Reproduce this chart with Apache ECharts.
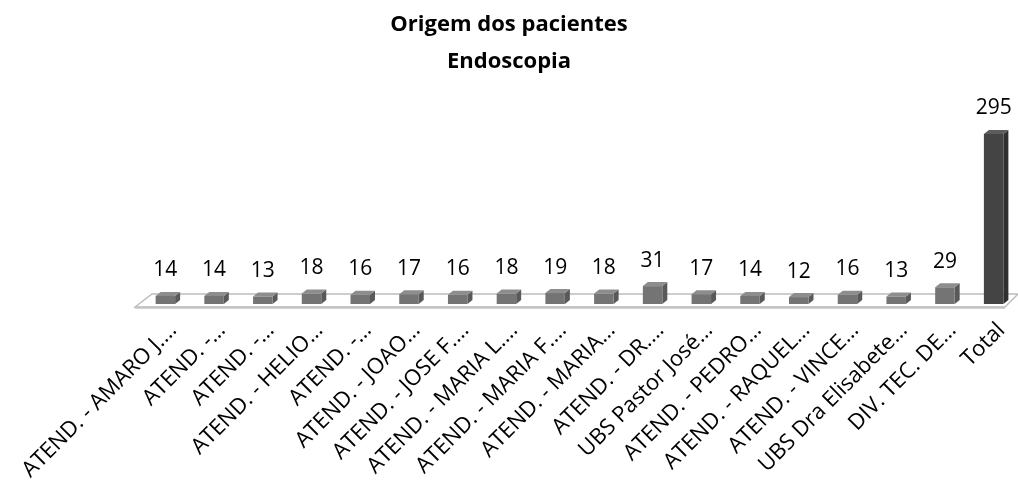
<!DOCTYPE html>
<html>
<head>
<meta charset="utf-8">
<script src="https://cdn.jsdelivr.net/npm/echarts@6/dist/echarts.min.js"></script>
<style>
  html, body { margin: 0; padding: 0; background: #fff; }
  #main { width: 1018px; height: 487px; }
</style>
</head>
<body>
<div id="main"></div>
<script>
// origem dos pacientes (rótulos truncados como no original)
var categorias = [
    "ATEND. - AMARO J.…", "ATEND. -…", "ATEND. -…", "ATEND. - HELIO…",
    "ATEND. -…", "ATEND. - JOAO…", "ATEND. - JOSE F.…", "ATEND. - MARIA L.…",
    "ATEND. - MARIA F.…", "ATEND. - MARIA…", "ATEND. - DR.…", "UBS Pastor José…",
    "ATEND. - PEDRO…", "ATEND. - RAQUEL…", "ATEND. - VINCE…", "UBS Dra Elisabete…",
    "DIV. TEC. DE…", "Total"
];
// quantidade de pacientes
var valores = [14, 14, 13, 18, 16, 17, 16, 18, 19, 18, 31, 17, 14, 12, 16, 13, 29, 295];

var fonte = '"Open Sans", "Liberation Sans", sans-serif';

// monta pares [indice, valor] para a serie custom
var dados = valores.map(function (v, i) {
    return [i, v];
});

// desenha cada barra como uma caixa 3D (frente, topo, lateral)
function caixa3d(params, api) {
    var idx = api.value(0);
    var val = api.value(1);
    var topo = api.coord([idx, val]);
    var base = api.coord([idx, 0]);
    var larguraBanda = api.size([1, 0])[0];
    var w = larguraBanda * 0.4;
    var dx = 5, dy = 4;
    var x0 = topo[0] - w / 2, x1 = topo[0] + w / 2;
    var yt = topo[1], yb = base[1];
    var total = idx === categorias.length - 1;
    var cores = total
        ? { frente: '#444444', topo: '#5c5c5c', lado: '#303030' }
        : { frente: '#747474', topo: '#8d8d8d', lado: '#595959' };

    var filhos = [];
    // piso (desenhado uma vez, atras de tudo)
    if (params.dataIndex === 0) {
        var cs = params.coordSys;
        var gx = cs.x, gw = cs.width, gy = cs.y + cs.height;
        filhos.push({
            type: 'polygon',
            shape: { points: [[gx - 6, gy + 3], [gx + 11, gy - 10], [gx + gw, gy - 10], [gx + gw - 13, gy + 3]] },
            style: { fill: '#ffffff', stroke: '#bdbdbd', lineWidth: 1.5 }
        });
        filhos.push({
            type: 'line',
            shape: { x1: gx - 6, y1: gy + 3.5, x2: gx + gw - 13, y2: gy + 3.5 },
            style: { stroke: '#c4c4c4', lineWidth: 2.5 }
        });
    }
    filhos.push({
        type: 'polygon',
        shape: { points: [[x1, yt], [x1 + dx, yt - dy], [x1 + dx, yb - dy], [x1, yb]] },
        style: { fill: cores.lado }
    });
    filhos.push({
        type: 'polygon',
        shape: { points: [[x0, yt], [x0 + dx, yt - dy], [x1 + dx, yt - dy], [x1, yt]] },
        style: { fill: cores.topo }
    });
    filhos.push({
        type: 'rect',
        shape: { x: x0, y: yt, width: w, height: yb - yt },
        style: { fill: cores.frente }
    });
    // rotulo de valor
    filhos.push({
        type: 'text',
        x: topo[0],
        y: yt - dy - 11,
        style: {
            text: String(val),
            fill: '#000',
            font: '21px ' + fonte,
            align: 'center',
            verticalAlign: 'bottom'
        }
    });
    return { type: 'group', children: filhos };
}

var myChart = echarts.init(document.getElementById('main'));
var option = {
    backgroundColor: '#ffffff',
    animation: false,
    title: {
        text: 'Origem dos pacientes\nEndoscopia',
        left: 'center',
        top: 1,
        textStyle: {
            fontFamily: fonte,
            fontSize: 22,
            fontWeight: 'bold',
            color: '#000',
            lineHeight: 37
        }
    },
    grid: {
        left: 141,
        right: 0,
        top: 131,
        bottom: 183,
        containLabel: false,
        outerBoundsMode: 'none'
    },
    xAxis: {
        type: 'category',
        data: categorias,
        axisLine: { show: false },
        axisTick: { show: false },
        axisLabel: {
            interval: 0,
            rotate: 45,
            margin: 15,
            align: 'right',
            verticalAlign: 'top',
            color: '#000',
            fontFamily: fonte,
            fontSize: 22
        }
    },
    yAxis: {
        type: 'value',
        min: 0,
        max: 300,
        show: false,
        splitLine: { show: false }
    },
    series: [{
        type: 'custom',
        renderItem: caixa3d,
        encode: { x: 0, y: 1 },
        data: dados
    }]
};
myChart.setOption(option);
</script>
</body>
</html>
